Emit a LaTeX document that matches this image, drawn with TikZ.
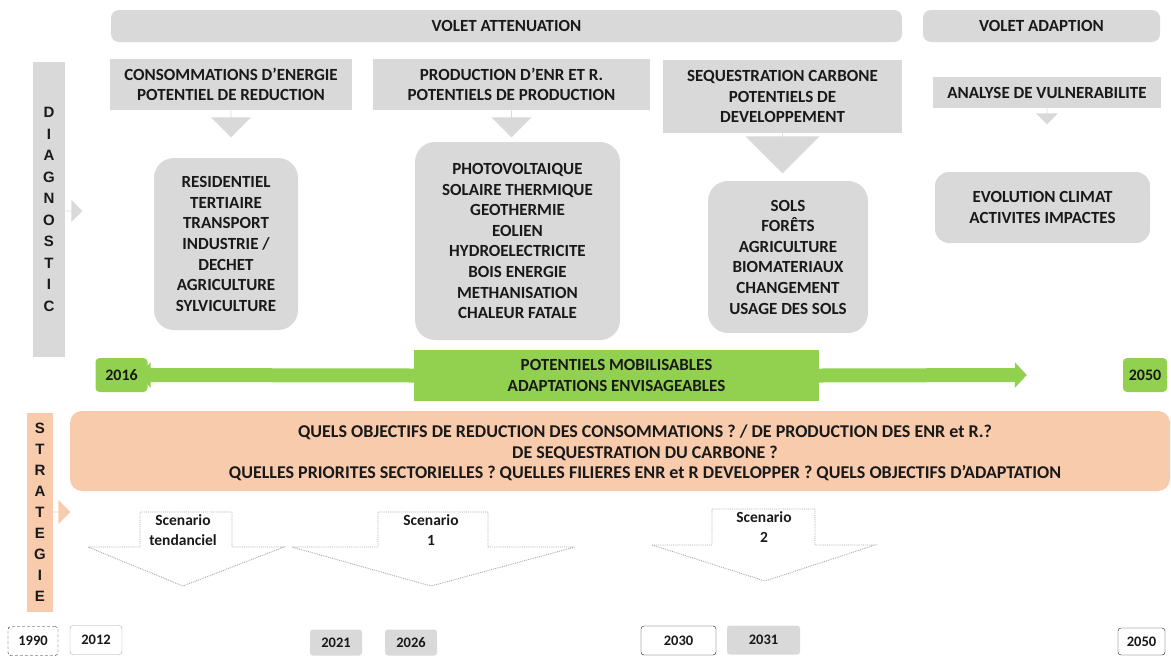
\documentclass[tikz,border=0pt]{standalone}
\usepackage{fontspec}
\setmainfont{Carlito}
\newfontfamily\lettersfont{Liberation Sans}
\usetikzlibrary{arrows.meta}
\usetikzlibrary{positioning}
\usetikzlibrary{shapes.arrows}
\definecolor{boxgray}{RGB}{217,217,217}
\definecolor{txtgray}{RGB}{25,25,25}
\definecolor{leafgreen}{RGB}{146,208,80}
\definecolor{peach}{RGB}{248,203,173}
\definecolor{dotgray}{RGB}{170,170,170}
\tikzset{
  graybox/.style={fill=boxgray, text=txtgray, align=center, inner sep=0pt,
    font=\bfseries\fontsize{17}{20.6}\selectfont},
  roundbox/.style={graybox, rounded corners=20pt},
  greenbox/.style={graybox, fill=leafgreen},
  yearbox/.style={rounded corners=3pt, minimum height=29pt, text=txtgray,
    font=\bfseries\fontsize{14.5}{16}\selectfont},
  downarrow/.style={single arrow, fill=boxgray, shape border rotate=270,
    single arrow head extend=#1, inner sep=0pt, single arrow tip angle=90},
  sidebar/.style={inner sep=0pt, align=center, text=txtgray,
    font=\lettersfont\bfseries\fontsize{15}{21.5}\selectfont},
  scenline/.style={draw=dotgray, densely dotted, line width=0.9pt},
  scentext/.style={align=center, text=txtgray, font=\bfseries\fontsize{15.5}{20}\selectfont}
}
\begin{document}
\begin{tikzpicture}[x=1pt, y=-1pt]
  \useasboundingbox (0,0) rectangle (1171,657);
  % volets
  \node[graybox, rounded corners=8pt, minimum width=791pt, minimum height=32pt] (attn) at (506.5,26) {VOLET ATTENUATION};
  \node[graybox, rounded corners=8pt, minimum width=237pt, minimum height=32pt] (adapt) at (1041.5,26) {VOLET ADAPTION};
  % diagnostic headers
  \node[graybox, minimum width=242pt, minimum height=51pt] (conso) at (231,84.5) {CONSOMMATIONS D'ENERGIE\\POTENTIEL DE REDUCTION};
  \node[graybox, minimum width=277pt, minimum height=51pt] (prod) at (511.5,84.5) {PRODUCTION D'ENR ET R.\\POTENTIELS DE PRODUCTION};
  \node[graybox, minimum width=239pt, minimum height=73pt] (seq) at (782.5,96.5) {SEQUESTRATION CARBONE\\POTENTIELS DE\\DEVELOPPEMENT};
  \node[graybox, minimum width=228pt, minimum height=31pt] (vuln) at (1047,92.5) {ANALYSE DE VULNERABILITE};
  \node[downarrow=10pt, minimum width=40pt, minimum height=27pt, anchor=tail] (a1) at (conso.south) {};
  \node[downarrow=10pt, minimum width=40pt, minimum height=27pt, anchor=tail] (a2) at (prod.south) {};
  \node[downarrow=19pt, minimum width=74pt, minimum height=40pt, anchor=tail] (a3) at (seq.south) {};
  \node[downarrow=5pt, minimum width=22pt, minimum height=16pt, anchor=tail] (a4) at (vuln.south) {};
  % contenus
  \node[roundbox, minimum width=144pt, minimum height=172pt] (sect) at (226,244) {RESIDENTIEL\\TERTIAIRE\\TRANSPORT\\INDUSTRIE /\\DECHET\\AGRICULTURE\\SYLVICULTURE};
  \node[roundbox, minimum width=205pt, minimum height=198pt] (enr) at (517.5,241) {PHOTOVOLTAIQUE\\SOLAIRE THERMIQUE\\GEOTHERMIE\\EOLIEN\\HYDROELECTRICITE\\BOIS ENERGIE\\METHANISATION\\CHALEUR FATALE};
  \node[roundbox, minimum width=160pt, minimum height=152pt] (sols) at (788,257) {SOLS\\FORÊTS\\AGRICULTURE\\BIOMATERIAUX\\CHANGEMENT\\USAGE DES SOLS};
  \node[roundbox, rounded corners=14pt, minimum width=215pt, minimum height=71pt] (clim) at (1042.5,207.5) {EVOLUTION CLIMAT\\ACTIVITES IMPACTES};
  % diagnostic bar
  \node[sidebar, fill=boxgray, minimum width=32pt, minimum height=295pt] (diag) at (49,209.5) {D\\I\\A\\G\\N\\O\\S\\T\\I\\C};
  \node[downarrow=5pt, shape border rotate=0, minimum width=22pt, minimum height=17pt, anchor=tail] (a5) at (diag.east |- 0,211) {};
  % potentiels
  \node[greenbox, minimum width=405pt, minimum height=51pt] (pot) at (616.5,375.5) {POTENTIELS MOBILISABLES\\ADAPTATIONS ENVISAGEABLES};
  \node[greenbox, rounded corners=4pt, minimum width=52pt, minimum height=34pt, font=\bfseries\fontsize{16}{18}\selectfont] (y2016) at (121.5,375) {2016};
  \node[greenbox, rounded corners=4pt, minimum width=44pt, minimum height=34pt, font=\bfseries\fontsize{16}{18}\selectfont] (y2050) at (1145,375) {2050};
  \draw[leafgreen, line width=14pt, -{Triangle[length=12pt, width=25pt]}] (pot.west) -- ([xshift=-9pt]y2016.east);
  \draw[leafgreen, line width=14pt, -{Triangle[length=12pt, width=25pt]}] (pot.east) -- ([xshift=-96pt]y2050.west);
  % strategie
  \node[fill=peach, rounded corners=12pt, minimum width=1100pt, minimum height=80pt] (quest) at (620,451) {};
  \node[graybox, fill=none, font=\bfseries\fontsize{18}{20.5}\selectfont] (qtext) at (645,453) {QUELS OBJECTIFS DE REDUCTION DES CONSOMMATIONS ? / DE PRODUCTION DES ENR et R.?\\DE SEQUESTRATION DU CARBONE ?\\QUELLES PRIORITES SECTORIELLES ? QUELLES FILIERES ENR et R DEVELOPPER ? QUELS OBJECTIFS D'ADAPTATION};
  \node[sidebar, fill=peach, minimum width=26pt, minimum height=199pt, font=\lettersfont\bfseries\fontsize{15}{21}\selectfont] (strat) at (40,512.5) {S\\T\\R\\A\\T\\E\\G\\I\\E};
  \node[downarrow=5pt, shape border rotate=0, fill=peach, minimum width=24pt, minimum height=17pt, anchor=tail] (a6) at (strat.east |- 0,512) {};
  % scenarios
  \node[scentext] (scen0) at (183,530) {Scenario\\tendanciel};
  \node[scentext] (scen1) at (431,530) {Scenario\\1};
  \node[scentext] (scen2) at (764,527) {Scenario\\2};
  \draw[scenline] (88,547) -- (140,547) -- (140,512) -- (232,512) -- (232,547) -- (284,547) -- (183,586) -- cycle;
  \draw[scenline] (292,547) -- (378,547) -- (378,512) -- (488,512) -- (488,547) -- (575,547) -- (431,586) -- cycle;
  \draw[scenline] (652,545) -- (712,545) -- (712,509) -- (815,509) -- (815,545) -- (875,545) -- (765,581) -- cycle;
  % annees
  \node[yearbox, draw=txtgray, densely dashed, minimum width=50pt] (t1990) at (33,641) {1990};
  \node[yearbox, draw=dotgray, minimum width=52pt] (t2012) at (96,640) {2012};
  \node[yearbox, fill=boxgray, minimum width=52pt, minimum height=26pt] (t2021) at (336,642.5) {2021};
  \node[yearbox, fill=boxgray, minimum width=52pt, minimum height=26pt] (t2026) at (411,642.5) {2026};
  \node[yearbox, draw=txtgray, minimum width=75pt] (t2030) at (678.5,640.5) {2030};
  \node[yearbox, fill=boxgray, minimum width=73pt] (t2031) at (763.5,640) {2031};
  \node[yearbox, draw=txtgray, minimum width=47pt, minimum height=27pt] (t2050) at (1141.5,641.5) {2050};
\end{tikzpicture}
\end{document}
